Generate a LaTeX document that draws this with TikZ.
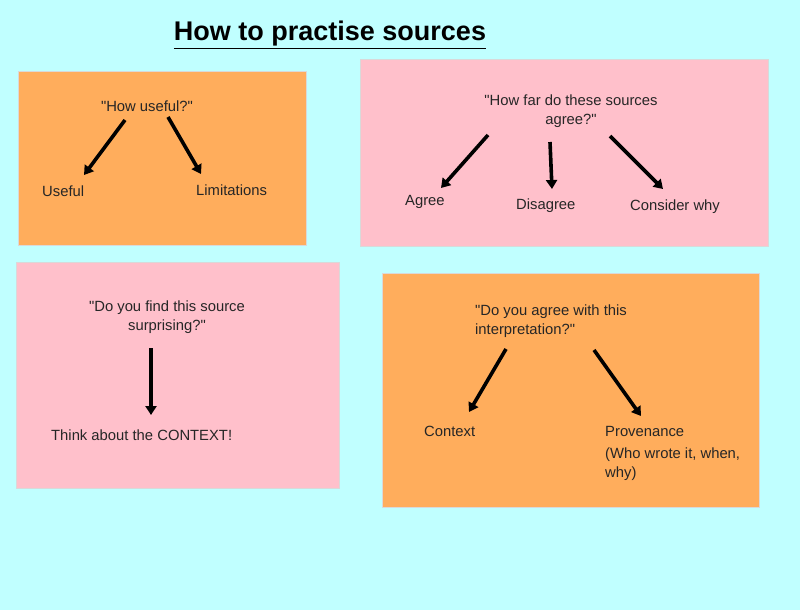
\documentclass[tikz,border=0pt]{standalone}
\usepackage{fontspec}
\setmainfont{Liberation Sans}
\usetikzlibrary{arrows.meta}
\definecolor{bgcyan}{HTML}{C0FFFF}
\definecolor{boxorange}{HTML}{FFAD5C}
\definecolor{boxpink}{HTML}{FFC0CB}
\newcommand{\qq}{\textquotedbl}
\tikzset{
  panel/.style={draw=white!85!black, line width=0.6pt},
  lbl/.style={inner sep=0pt, font=\fontsize{14.8}{18.5}\selectfont, text=black!85},
  lblw/.style={lbl, anchor=west},
  bigarrow/.style={line width=3.6pt, -{Triangle[width=11pt,length=9pt]}},
}
\begin{document}
\begin{tikzpicture}[x=1pt,y=-1pt]
\fill[bgcyan] (0,0) rectangle (800,610);
\useasboundingbox (0,0) rectangle (800,610);
% title
\node[inner sep=0pt, font=\fontsize{27}{30}\bfseries\selectfont] (title) at (330,35) {\underline{How to practise sources}};
% panels
\fill[panel, fill=boxorange] (18,71) rectangle (306,245);
\fill[panel, fill=boxpink] (360,59) rectangle (768,246);
\fill[panel, fill=boxpink] (16,262) rectangle (339,488);
\fill[panel, fill=boxorange] (382,273) rectangle (759,507);
% panel 1
\node[lbl] (q1) at (147,106) {\qq How useful?\qq};
\node[lblw] (useful) at (42,191) {Useful};
\node[lblw] (limits) at (196,190) {Limitations};
\coordinate (q1a) at (125,120); \coordinate (usefulA) at (84,175);
\coordinate (q1b) at (168,117); \coordinate (limitsA) at (201,174);
\draw[bigarrow] (q1a) -- (usefulA);
\draw[bigarrow] (q1b) -- (limitsA);
% panel 2
\node[lbl, align=center] (q2) at (571,111) {\qq How far do these sources\\agree?\qq};
\node[lblw] (agree) at (405,202) {Agree};
\node[lblw] (disagree) at (516,206) {Disagree};
\node[lblw] (consider) at (630,207) {Consider why};
\coordinate (q2a) at (488,135); \coordinate (agreeA) at (441,188);
\coordinate (q2b) at (550,142); \coordinate (disagreeA) at (552,189);
\coordinate (q2c) at (610,136); \coordinate (considerA) at (663,189);
\draw[bigarrow] (q2a) -- (agreeA);
\draw[bigarrow] (q2b) -- (disagreeA);
\draw[bigarrow] (q2c) -- (considerA);
% panel 3
\node[lbl, align=center] (q3) at (167,317) {\qq Do you find this source\\surprising?\qq};
\node[lblw] (context3) at (51,435) {Think about the CONTEXT!};
\coordinate (q3a) at (151,348); \coordinate (context3A) at (151,415);
\draw[bigarrow] (q3a) -- (context3A);
% panel 4
\node[lbl, align=left, anchor=north west] (q4) at (475,305) {\qq Do you agree with this\\interpretation?\qq};
\node[lblw] (context4) at (424,431) {Context};
\node[lblw] (prov) at (605,431) {Provenance};
\node[lbl, align=left, anchor=north west] (who) at (605,448) {(Who wrote it, when,\\why)};
\coordinate (q4a) at (506,349); \coordinate (context4A) at (469,412);
\coordinate (q4b) at (594,350); \coordinate (provA) at (641,416);
\draw[bigarrow] (q4a) -- (context4A);
\draw[bigarrow] (q4b) -- (provA);
\end{tikzpicture}
\end{document}
